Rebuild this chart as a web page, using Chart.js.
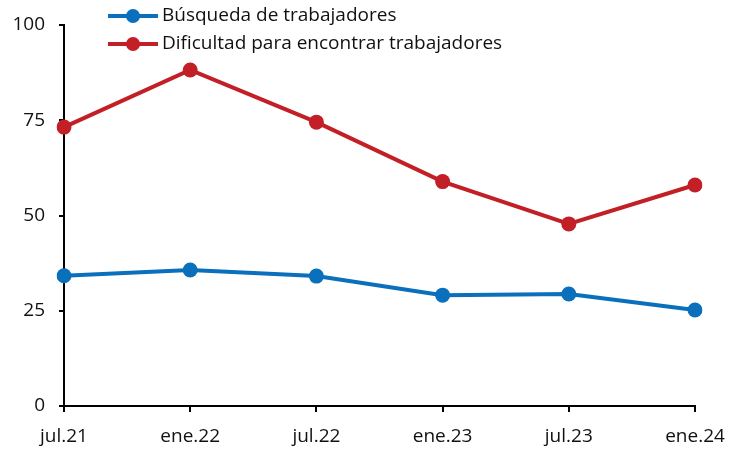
<!DOCTYPE html>
<html><head><meta charset="utf-8">
<script src="https://cdn.jsdelivr.net/npm/chart.js@4/dist/chart.umd.min.js"></script>
<style>html,body{margin:0;padding:0;background:#fff}#wrap{width:731px;height:449px;position:relative}</style>
</head><body><div id="wrap"><canvas id="c"></canvas></div>
<script>
const categories = ["jul.21","ene.22","jul.22","ene.23","jul.23","ene.24"];
const busqueda = [34.2, 35.7, 34.1, 29.1, 29.4, 25.2];
const dificultad = [73.2, 88.2, 74.5, 58.9, 47.8, 58.0];
const yTicks = [0, 25, 50, 75, 100];
const seriesNames = ["Búsqueda de trabajadores", "Dificultad para encontrar trabajadores"];
const BLUE = "#0b70bb", RED = "#c31f26";
const FONT = "'Open Sans', sans-serif";

const legendPlugin = {
  id: "lineLegend",
  afterDraw(chart) {
    const ctx = chart.ctx;
    ctx.save();
    chart.data.datasets.forEach((ds, i) => {
      const y = 16 + i * 28;
      ctx.strokeStyle = ds.borderColor; ctx.lineWidth = 4;
      ctx.beginPath(); ctx.moveTo(108, y); ctx.lineTo(158, y); ctx.stroke();
      ctx.fillStyle = ds.borderColor;
      ctx.beginPath(); ctx.arc(133, y, 7, 0, Math.PI * 2); ctx.fill();
      ctx.fillStyle = "#111"; ctx.font = "19px " + FONT;
      ctx.textBaseline = "middle"; ctx.textAlign = "left";
      ctx.fillText(ds.label, 162, y);
    });
    ctx.restore();
  }
};

new Chart(document.getElementById("c"), {
  type: "line",
  data: {
    labels: categories,
    datasets: [
      { label: seriesNames[0], data: busqueda, borderColor: BLUE, backgroundColor: BLUE, borderWidth: 4, pointRadius: 7.5, pointHoverRadius: 7.5, pointBackgroundColor: BLUE, pointBorderWidth: 0, tension: 0 },
      { label: seriesNames[1], data: dificultad, borderColor: RED, backgroundColor: RED, borderWidth: 4, pointRadius: 7.5, pointHoverRadius: 7.5, pointBackgroundColor: RED, pointBorderWidth: 0, tension: 0 }
    ]
  },
  options: {
    responsive: true, maintainAspectRatio: false, animation: false,
    layout: { padding: { left: 0, right: 36, top: 25, bottom: 0 } },
    plugins: { legend: { display: false }, tooltip: { enabled: false } },
    scales: {
      x: {
        offset: false,
        border: { display: true, color: "#000", width: 2 },
        grid: { display: true, drawOnChartArea: false, color: "#000", lineWidth: 2, tickLength: 6 },
        ticks: { color: "#111", font: { family: FONT, size: 19 }, padding: 13, maxRotation: 0, autoSkip: false },
        afterFit(s) { s.height = 43; s.paddingLeft = 0; s.paddingRight = 0; }
      },
      y: {
        min: 0, max: 100,
        border: { display: true, color: "#000", width: 2 },
        grid: { display: true, drawOnChartArea: false, color: "#000", lineWidth: 2, tickLength: 5 },
        afterBuildTicks(s) { s.ticks = yTicks.map(v => ({ value: v })); },
        ticks: { color: "#111", font: { family: FONT, size: 19 }, padding: 14 },
        afterFit(s) { s.width = 64; s.paddingTop = 0; s.paddingBottom = 0; }
      }
    }
  },
  plugins: [legendPlugin]
});
</script></body></html>
